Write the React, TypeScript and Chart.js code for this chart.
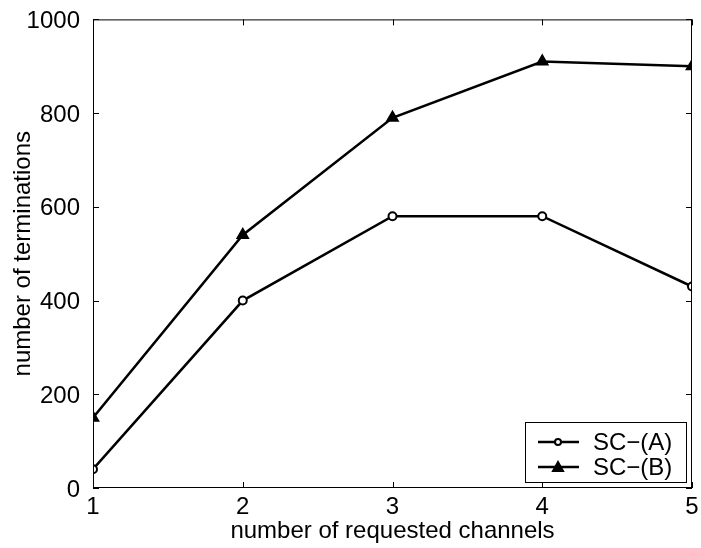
import React, { useEffect, useRef } from "react";
import { Chart, registerables } from "chart.js";

Chart.register(...registerables);

const channels = [1, 2, 3, 4, 5];
const seriesA = [40, 400, 580, 580, 430];
const seriesB = [150, 540, 790, 910, 900];
const yTicks = [0, 200, 400, 600, 800, 1000];
const xTicks = [1, 2, 3, 4, 5];
const labelA = "SC\u2212(A)";
const labelB = "SC\u2212(B)";
const xTitle = "number of requested channels";
const yTitle = "number of terminations";

const FONT = "'Liberation Sans', Arial, sans-serif";
const FS = 24;

const framePlugin = {
  id: "frame",
  afterDraw(chart: any) {
    const { ctx, chartArea: a, scales } = chart;
    const xs = scales.x;
    const ys = scales.y;
    ctx.save();
    ctx.strokeStyle = "#000";
    ctx.lineWidth = 1;
    ctx.strokeRect(a.left + 0.5, a.top + 0.5, a.right - a.left - 1, a.bottom - a.top - 1);
    const tl = 6;
    ctx.beginPath();
    for (const v of yTicks) {
      const y = Math.round(ys.getPixelForValue(v)) + 0.5;
      ctx.moveTo(a.left, y);
      ctx.lineTo(a.left + tl, y);
      ctx.moveTo(a.right, y);
      ctx.lineTo(a.right - tl, y);
    }
    for (const v of xTicks) {
      const x = Math.round(xs.getPixelForValue(v)) + 0.5;
      ctx.moveTo(x, a.bottom);
      ctx.lineTo(x, a.bottom - tl);
      ctx.moveTo(x, a.top);
      ctx.lineTo(x, a.top + tl);
    }
    ctx.stroke();

    // legend
    const w = 161;
    const h = 60;
    const lx = a.right - 6 - w;
    const ly = a.bottom - 6 - h;
    ctx.fillStyle = "#fff";
    ctx.fillRect(lx, ly, w, h);
    ctx.lineWidth = 1;
    ctx.strokeRect(lx + 0.5, ly + 0.5, w, h);
    const entries = [
      { label: labelA, style: "circle", y: ly + 20 },
      { label: labelB, style: "triangle", y: ly + 45 },
    ];
    ctx.font = `${FS}px ${FONT}`;
    ctx.textBaseline = "middle";
    ctx.textAlign = "left";
    for (const e of entries) {
      ctx.strokeStyle = "#000";
      ctx.lineWidth = 2.5;
      ctx.beginPath();
      ctx.moveTo(lx + 13, e.y);
      ctx.lineTo(lx + 54, e.y);
      ctx.stroke();
      ctx.lineWidth = 2;
      ctx.beginPath();
      const cx = lx + 33;
      if (e.style === "circle") {
        ctx.arc(cx, e.y, 3, 0, Math.PI * 2);
        ctx.fillStyle = "#fff";
        ctx.fill();
        ctx.stroke();
      } else {
        ctx.moveTo(cx, e.y - 5);
        ctx.lineTo(cx + 5, e.y + 4);
        ctx.lineTo(cx - 5, e.y + 4);
        ctx.closePath();
        ctx.fillStyle = "#000";
        ctx.fill();
        ctx.stroke();
      }
      ctx.fillStyle = "#000";
      ctx.fillText(e.label, lx + 68, e.y + 1);
    }
    ctx.restore();
  },
};

export default function App() {
  const ref = useRef<HTMLCanvasElement>(null);
  useEffect(() => {
    if (!ref.current) return;
    const chart = new Chart(ref.current, {
      type: "line",
      data: {
        datasets: [
          {
            label: labelA,
            data: channels.map((c, i) => ({ x: c, y: seriesA[i] })),
            borderColor: "#000",
            borderWidth: 2.5,
            pointStyle: "circle",
            pointRadius: 4,
            pointBorderWidth: 2,
            pointBorderColor: "#000",
            pointBackgroundColor: "#fff",
            tension: 0,
          },
          {
            label: labelB,
            data: channels.map((c, i) => ({ x: c, y: seriesB[i] })),
            borderColor: "#000",
            borderWidth: 2.5,
            pointStyle: "triangle",
            pointRadius: 6,
            pointBorderWidth: 2,
            pointBorderColor: "#000",
            pointBackgroundColor: "#000",
            tension: 0,
          },
        ],
      },
      options: {
        animation: false,
        responsive: false,
        maintainAspectRatio: false,
        layout: { padding: { top: 16, right: 9, left: 0, bottom: 0 } },
        plugins: { legend: { display: false }, tooltip: { enabled: false } },
        scales: {
          x: {
            type: "linear",
            min: 1,
            max: 5,
            grid: { display: false },
            border: { display: false },
            afterBuildTicks: (s: any) => {
              s.ticks = xTicks.map((v) => ({ value: v }));
            },
            afterFit: (s: any) => {
              s.height = 60;
            },
            ticks: {
              color: "#000",
              font: { family: FONT, size: FS },
              padding: -3,
              maxRotation: 0,
              callback: (v: any) => String(v),
            },
            title: {
              display: true,
              text: xTitle,
              color: "#000",
              font: { family: FONT, size: FS },
              padding: { top: 0, bottom: 2 },
            },
          },
          y: {
            type: "linear",
            min: 0,
            max: 1000,
            grid: { display: false },
            border: { display: false },
            afterBuildTicks: (s: any) => {
              s.ticks = yTicks.map((v) => ({ value: v }));
            },
            afterFit: (s: any) => {
              s.width = 93;
            },
            ticks: {
              color: "#000",
              font: { family: FONT, size: FS },
              padding: 5,
              labelOffset: 2,
              callback: (v: any) => String(v),
            },
            title: {
              display: true,
              text: yTitle,
              color: "#000",
              font: { family: FONT, size: FS },
              padding: { top: 9, bottom: 0 },
            },
          },
        },
      },
      plugins: [framePlugin],
    } as any);
    return () => chart.destroy();
  }, []);
  return (
    <div style={{ position: "fixed", left: 0, top: 0, width: 701, height: 548, background: "#fff" }}>
      <canvas ref={ref} width={701} height={548} style={{ width: 701, height: 548, display: "block" }} />
    </div>
  );
}
